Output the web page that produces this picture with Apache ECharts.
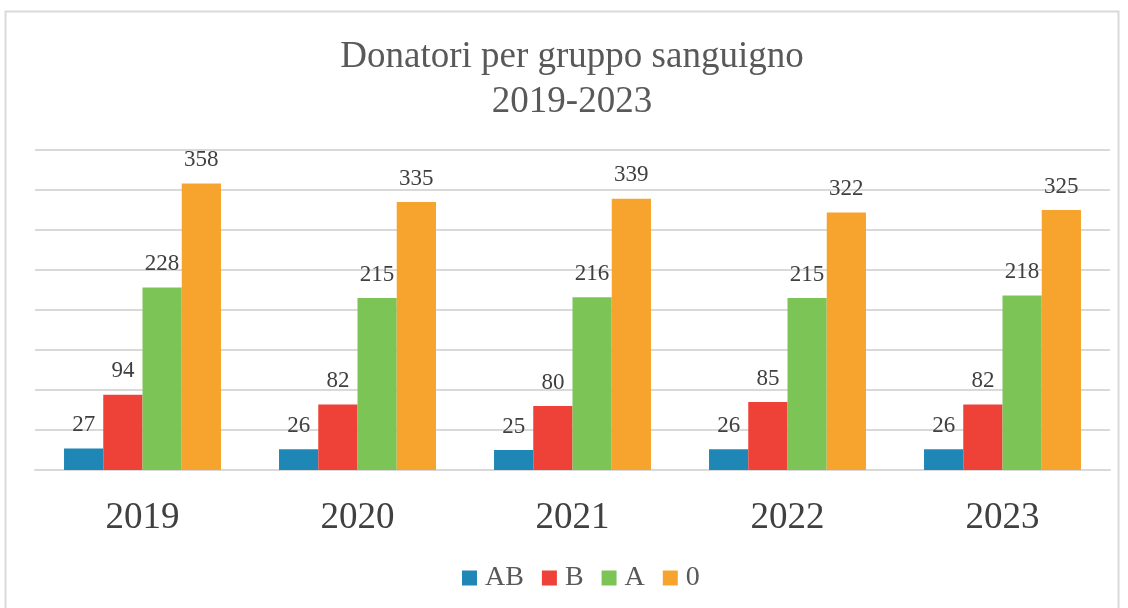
<!DOCTYPE html>
<html>
    <head>
        <meta charset="utf-8">
        <script src="https://cdn.jsdelivr.net/npm/echarts@6/dist/echarts.min.js"></script>
    </head>
    <body>
        <style>
            html, body, #main {
                width: 100%;
                height: 100%;
                margin: 0;
                background: #fff;
            }
        </style>
        <div id="main"></div>
        <script>
            var years = ['2019', '2020', '2021', '2022', '2023'];
            var groups = ['AB', 'B', 'A', '0'];
            var valuesAB = [27, 26, 25, 26, 26];
            var valuesB = [94, 82, 80, 85, 82];
            var valuesA = [228, 215, 216, 215, 218];
            var values0 = [358, 335, 339, 322, 325];
            var colors = ['#1f87b5', '#ee4137', '#7dc457', '#f7a42e'];

            var font = '"Liberation Serif", "Times New Roman", serif';
            var chart = echarts.init(document.getElementById('main'));

            var seriesData = [valuesAB, valuesB, valuesA, values0];
            var series = groups.map(function (name, i) {
                return {
                    name: name,
                    type: 'bar',
                    data: seriesData[i],
                    barGap: '0%',
                    barCategoryGap: '27%',
                    itemStyle: { color: colors[i] },
                    label: {
                        show: true,
                        position: 'top',
                        distance: 12,
                        color: '#404040',
                        fontFamily: font,
                        fontSize: 23
                    }
                };
            });

            chart.setOption({
                animation: false,
                color: colors,
                title: {
                    text: 'Donatori per gruppo sanguigno\n2019-2023',
                    left: 567,
                    top: 30,
                    textAlign: 'center',
                    textStyle: {
                        fontFamily: font,
                        fontWeight: 'normal',
                        fontSize: 37,
                        lineHeight: 45,
                        color: '#595959'
                    }
                },
                legend: {
                    bottom: 11,
                    left: 457,
                    itemWidth: 15,
                    itemHeight: 15,
                    itemGap: 18,
                    icon: 'rect',
                    textStyle: {
                        fontFamily: font,
                        fontSize: 28,
                        color: '#595959',
                        padding: [0, 0, 0, 3]
                    },
                    data: groups
                },
                grid: {
                    left: 35,
                    right: 18,
                    top: 150,
                    bottom: 138
                },
                xAxis: {
                    type: 'category',
                    data: years,
                    axisTick: { show: false },
                    axisLine: { lineStyle: { color: '#d9d9d9', width: 2 } },
                    axisLabel: {
                        margin: 30,
                        fontFamily: font,
                        fontSize: 37,
                        color: '#404040'
                    }
                },
                yAxis: {
                    type: 'value',
                    min: 0,
                    max: 400,
                    interval: 50,
                    axisLabel: { show: false },
                    axisLine: { show: false },
                    axisTick: { show: false },
                    splitLine: { lineStyle: { color: '#d9d9d9', width: 2 } }
                },
                graphic: [{
                    type: 'rect',
                    shape: { x: 5.5, y: 11.5, width: 1113, height: 620 },
                    style: { fill: 'none', stroke: '#d9d9d9', lineWidth: 2 },
                    silent: true
                }],
                series: series
            });
        </script>
    </body>
</html>
